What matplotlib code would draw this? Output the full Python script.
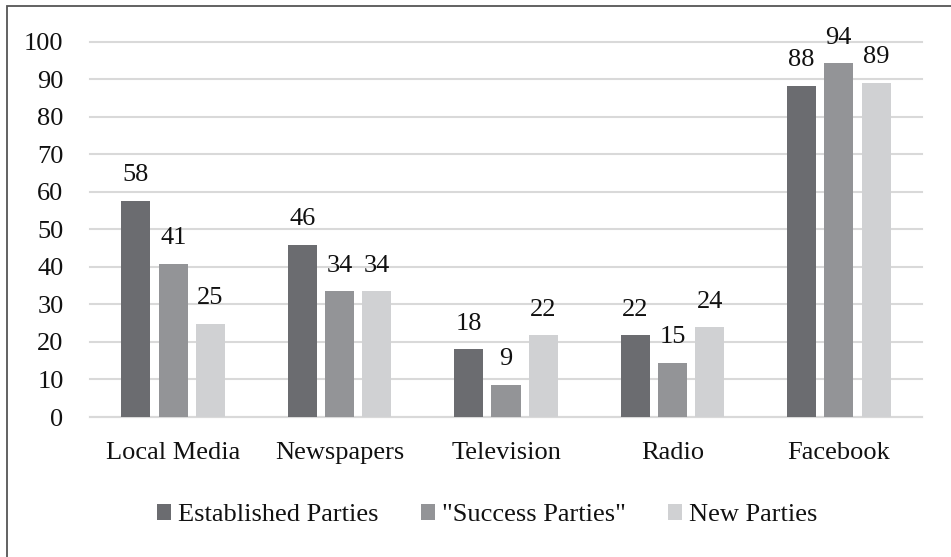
import numpy as np
import matplotlib
matplotlib.use("Agg")
import matplotlib.pyplot as plt
from matplotlib.patches import Rectangle

plt.rcParams['font.family'] = ['Liberation Serif', 'DejaVu Serif']

# data (labels are rounded)
categories = ["Local Media", "Newspapers", "Television", "Radio", "Facebook"]
series_names = ["Established Parties", "\"Success Parties\"", "New Parties"]
established = [57.6, 45.9, 18.1, 21.8, 88.2]
success = [40.8, 33.5, 8.6, 14.5, 94.2]
new_parties = [24.8, 33.5, 21.8, 23.9, 89.0]
labels_est = [58, 46, 18, 22, 88]
labels_suc = [41, 34, 9, 15, 94]
labels_new = [25, 34, 22, 24, 89]
yticks = [0, 10, 20, 30, 40, 50, 60, 70, 80, 90, 100]

colors = ["#6b6c70", "#939497", "#d0d1d3"]
fs = 19

fig = plt.figure(figsize=(9.51, 5.57), dpi=100)
ax = fig.add_axes([90/951, 1-417/557, (922-90)/951, (417-41.5)/557])

x = np.arange(len(categories))
width = 0.175
offset = 0.224
all_vals = [established, success, new_parties]
all_labels = [labels_est, labels_suc, labels_new]

for i, (vals, labs) in enumerate(zip(all_vals, all_labels)):
    pos = x + (i - 1) * offset
    bars = ax.bar(pos, vals, width, color=colors[i], label=series_names[i], zorder=3)
    for b, lab in zip(bars, labs):
        ax.annotate(str(lab), (b.get_x() + b.get_width()/2, b.get_height()),
                    xytext=(0, 14), textcoords="offset points",
                    ha="center", va="baseline", fontsize=fs, color="#111111",
                    annotation_clip=False)

ax.set_xlim(-0.5, len(categories) - 0.5)
ax.set_ylim(0, 100)
ax.set_yticks(yticks)
ax.set_xticks(x)
ax.set_xticklabels(categories)
ax.yaxis.grid(True, color="#d9d9d9", linewidth=1.5, zorder=0)
for gl in ax.get_ygridlines():
    gl.set_clip_on(False)
for s in ["top", "right", "left"]:
    ax.spines[s].set_visible(False)
ax.spines["bottom"].set_color("#d9d9d9")
ax.spines["bottom"].set_linewidth(1.5)
ax.tick_params(axis="both", length=0, labelsize=fs, colors="#111111")
ax.tick_params(axis="y", pad=19)
ax.tick_params(axis="x", pad=18)

leg = fig.legend(loc="center", bbox_to_anchor=(487/951, 1-515/557), ncol=3,
                 frameon=False, fontsize=fs, handlelength=0.55, handleheight=0.55,
                 handletextpad=0.25, columnspacing=1.6, borderaxespad=0)
for t in leg.get_texts():
    t.set_color("#111111")

# outer border (cropped at right/bottom in the reference)
fig.patches.append(Rectangle((7/951, -0.05), 1.1, 1 - 5.5/557 + 0.05,
                             transform=fig.transFigure, fill=False,
                             edgecolor="#555555", linewidth=1.3))

fig.savefig("out.png", dpi=100)
